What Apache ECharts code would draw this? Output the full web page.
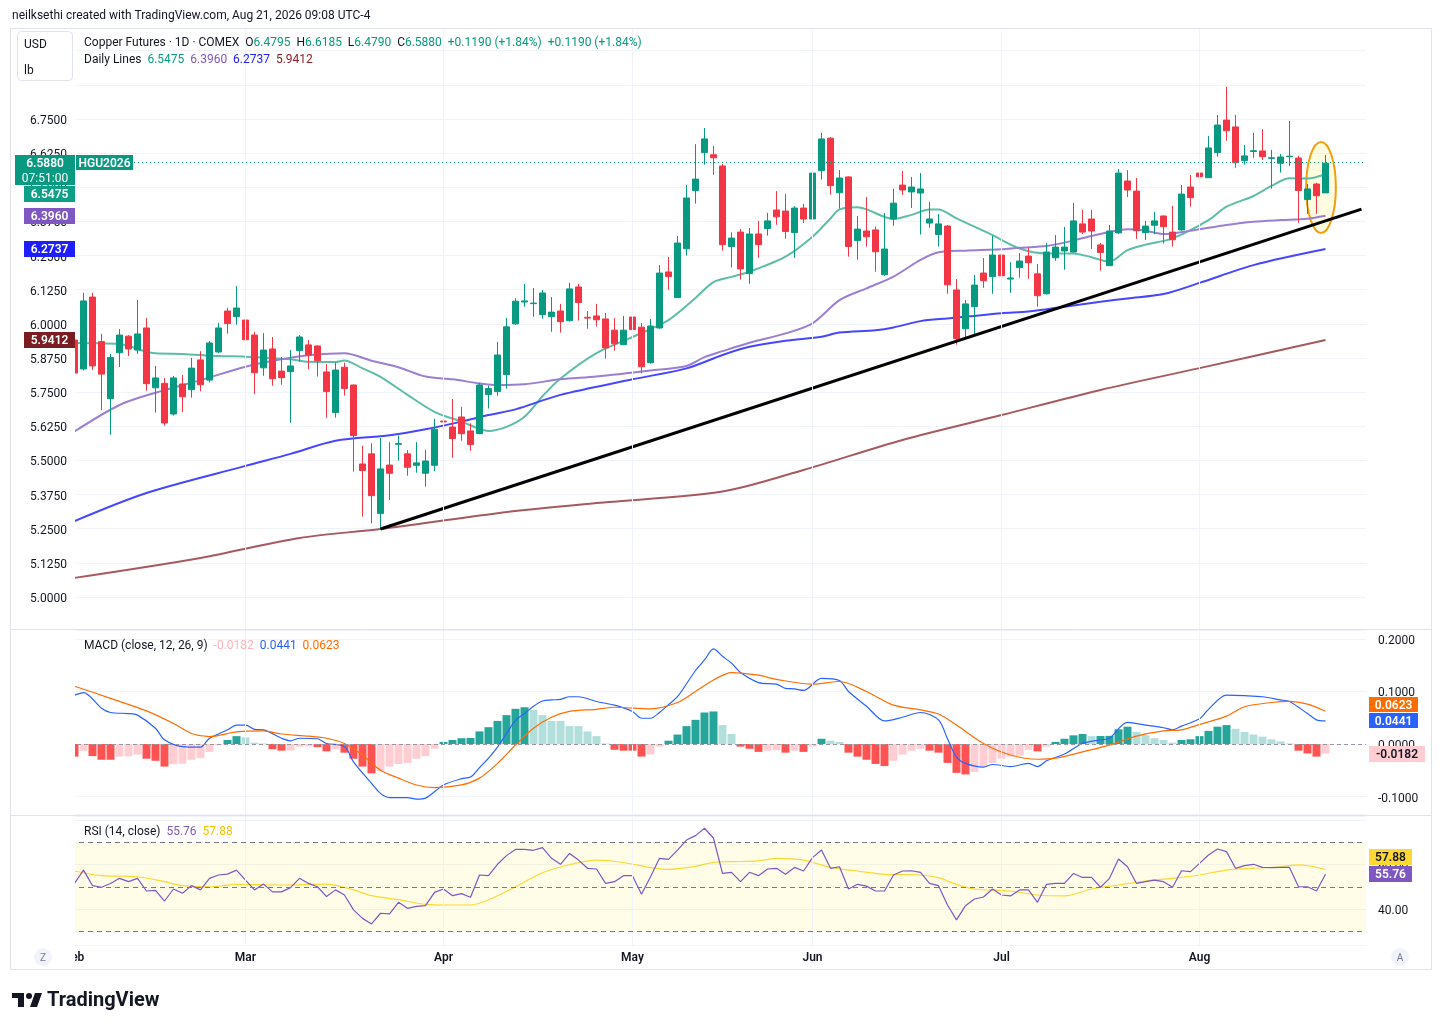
<!DOCTYPE html>
<html>
<head>
<meta charset="utf-8">
<script src="https://cdn.jsdelivr.net/npm/echarts@6/dist/echarts.min.js"></script>
<style>
html, body { margin: 0; padding: 0; background: #fff; }
#main { width: 1441px; height: 1030px; }
</style>
</head>
<body>
<div id="main"></div>
<script>
var FONT = 'Roboto, "Noto Sans", sans-serif';

// trading calendar (COMEX closed on these)
var holidays = ['2026-02-16', '2026-04-03', '2026-05-25', '2026-06-19', '2026-07-03'];
var monthNames = ['Jan', 'Feb', 'Mar', 'Apr', 'May', 'Jun', 'Jul', 'Aug', 'Sep', 'Oct', 'Nov', 'Dec'];
var slotCount = 144;

var open = [5.941,5.835,6.098,5.935,5.726,5.894,5.955,5.904,5.985,5.766,
    5.782,5.670,5.780,5.759,5.868,5.794,5.897,6.047,6.027,6.014,
    5.959,5.839,5.908,5.827,5.825,5.902,5.923,5.919,5.824,5.675,
    5.841,5.776,5.487,5.524,5.306,5.483,5.559,5.524,5.482,5.453,
    5.482,5.644,5.622,5.659,5.608,5.598,5.741,5.752,5.814,6.000,
    6.080,6.074,6.034,6.026,6.047,6.012,6.135,6.024,6.029,6.018,
    5.977,5.924,6.025,5.988,5.858,5.985,6.190,6.096,6.275,6.488,
    6.627,6.619,6.578,6.283,6.336,6.184,6.329,6.349,6.417,6.413,
    6.334,6.424,6.384,6.561,6.680,6.480,6.538,6.305,6.340,6.344,
    6.180,6.384,6.508,6.483,6.479,6.369,6.327,6.358,6.124,5.982,
    6.063,6.186,6.173,6.252,6.164,6.206,6.248,6.183,6.110,6.242,
    6.267,6.263,6.366,6.384,6.289,6.213,6.333,6.523,6.486,6.334,
    6.361,6.395,6.336,6.344,6.501,6.552,6.535,6.627,6.746,6.721,
    6.598,6.631,6.633,6.606,6.588,6.612,6.607,6.455,6.512,6.4795];
var high = [5.960,6.114,6.114,5.963,5.890,5.981,5.959,6.087,6.021,5.846,
    5.802,5.809,5.813,5.875,5.900,5.937,6.004,6.059,6.138,6.095,
    5.971,5.966,5.952,5.879,5.904,5.959,5.941,5.921,5.853,5.858,
    5.858,5.778,5.553,5.563,5.582,5.567,5.591,5.538,5.567,5.538,
    5.652,5.659,5.725,5.696,5.636,5.784,5.774,5.934,6.022,6.094,
    6.146,6.131,6.124,6.098,6.073,6.150,6.146,6.047,6.073,6.040,
    6.021,6.029,6.040,6.003,6.018,6.215,6.245,6.322,6.508,6.658,
    6.717,6.651,6.586,6.335,6.347,6.351,6.377,6.406,6.486,6.475,
    6.431,6.439,6.588,6.699,6.684,6.563,6.540,6.395,6.464,6.356,
    6.406,6.495,6.560,6.538,6.552,6.446,6.402,6.362,6.164,6.087,
    6.179,6.241,6.322,6.256,6.226,6.259,6.281,6.219,6.296,6.325,
    6.355,6.443,6.417,6.417,6.296,6.362,6.567,6.563,6.534,6.377,
    6.410,6.397,6.432,6.508,6.545,6.578,6.688,6.765,6.868,6.765,
    6.655,6.699,6.713,6.637,6.622,6.743,6.615,6.512,6.516,6.6185];
var low = [5.818,5.829,5.831,5.684,5.594,5.842,5.882,5.890,5.755,5.675,
    5.627,5.664,5.677,5.730,5.753,5.786,5.893,5.964,5.997,5.926,
    5.744,5.810,5.774,5.777,5.638,5.862,5.834,5.807,5.657,5.657,
    5.737,5.459,5.294,5.270,5.245,5.355,5.499,5.444,5.455,5.404,
    5.461,5.583,5.510,5.572,5.535,5.596,5.690,5.737,5.763,5.996,
    6.063,6.026,6.019,5.971,5.968,6.008,6.012,5.982,5.990,5.873,
    5.902,5.924,5.953,5.819,5.854,5.982,6.125,6.096,6.250,6.440,
    6.583,6.546,6.268,6.206,6.162,6.147,6.242,6.323,6.363,6.312,
    6.242,6.369,6.380,6.528,6.473,6.422,6.246,6.235,6.283,6.191,
    6.176,6.359,6.472,6.424,6.327,6.352,6.283,6.110,5.924,5.949,
    5.963,6.132,6.110,6.085,6.114,6.169,6.165,6.063,6.107,6.231,
    6.198,6.261,6.329,6.274,6.195,6.213,6.329,6.464,6.311,6.307,
    6.328,6.294,6.283,6.341,6.429,6.451,6.535,6.612,6.670,6.572,
    6.583,6.608,6.600,6.495,6.554,6.578,6.370,6.403,6.403,6.4790];
var close = [5.820,6.084,5.846,5.816,5.877,5.959,5.908,5.963,5.781,5.802,
    5.637,5.802,5.733,5.838,5.777,5.930,5.985,6.001,6.058,5.942,
    5.821,5.904,5.799,5.803,5.846,5.952,5.886,5.865,5.752,5.831,
    5.763,5.591,5.463,5.371,5.469,5.453,5.562,5.475,5.491,5.498,
    5.614,5.641,5.580,5.598,5.558,5.776,5.763,5.886,5.989,6.083,
    6.084,6.076,6.113,6.043,6.008,6.128,6.078,6.021,6.015,5.912,
    5.927,5.977,5.979,5.843,5.992,6.186,6.173,6.296,6.461,6.530,
    6.677,6.608,6.290,6.314,6.201,6.329,6.290,6.377,6.392,6.338,
    6.424,6.384,6.552,6.677,6.506,6.534,6.283,6.347,6.319,6.264,
    6.274,6.442,6.490,6.501,6.494,6.384,6.366,6.143,5.946,6.073,
    6.142,6.158,6.252,6.176,6.168,6.230,6.224,6.103,6.263,6.281,
    6.281,6.377,6.336,6.340,6.261,6.340,6.552,6.490,6.341,6.358,
    6.377,6.356,6.308,6.475,6.462,6.539,6.644,6.728,6.707,6.590,
    6.615,6.634,6.612,6.608,6.611,6.614,6.488,6.494,6.469,6.5880];

// daily moving averages as [bar index, value]
var ma20 = [[0,5.930],[5,5.926],[9,5.892],[12,5.890],[16,5.882],[19,5.880],[24,5.870],[26,5.861],[29,5.860],[30,5.866],
    [32,5.837],[34,5.806],[37,5.740],[40,5.678],[43,5.642],[46,5.608],[48,5.623],[50,5.660],[52,5.735],[54,5.800],
    [58,5.893],[62,5.952],[66,6.014],[69,6.095],[71,6.153],[73,6.172],[75,6.191],[79,6.246],[82,6.319],[84,6.386],
    [85,6.419],[87,6.427],[88,6.419],[91,6.384],[93,6.399],[95,6.419],[96,6.419],[98,6.386],[100,6.356],[102,6.325],
    [105,6.276],[108,6.258],[111,6.258],[113,6.244],[115,6.228],[117,6.270],[119,6.290],[122,6.313],[126,6.380],[128,6.429],
    [131,6.468],[133,6.505],[135,6.533],[137,6.532],[139,6.5475]];
var ma50 = [[0,5.606],[5,5.703],[9,5.748],[14,5.794],[19,5.843],[22,5.865],[24,5.876],[26,5.885],[30,5.892],[33,5.865],
    [36,5.841],[39,5.807],[42,5.797],[45,5.782],[47,5.776],[50,5.779],[54,5.797],[58,5.807],[64,5.829],[68,5.846],
    [70,5.878],[72,5.900],[75,5.931],[79,5.965],[82,6.002],[85,6.087],[88,6.130],[91,6.173],[94,6.234],[96,6.262],
    [99,6.268],[103,6.273],[105,6.279],[108,6.285],[111,6.305],[113,6.322],[115,6.336],[117,6.346],[119,6.341],[121,6.329],
    [124,6.341],[128,6.362],[131,6.374],[134,6.380],[137,6.385],[139,6.396]];
var ma100 = [[0,5.278],[8,5.381],[19,5.480],[24,5.524],[29,5.572],[35,5.592],[39,5.614],[43,5.642],[46,5.666],[49,5.687],
    [54,5.740],[62,5.797],[68,5.837],[72,5.886],[75,5.916],[79,5.938],[83,5.953],[85,5.968],[89,5.977],[91,5.987],
    [94,6.010],[97,6.020],[99,6.026],[103,6.039],[106,6.045],[110,6.063],[114,6.081],[117,6.093],[121,6.109],[125,6.150],
    [131,6.215],[139,6.2737]];
var ma200 = [[0,5.070],[14,5.143],[25,5.216],[34,5.249],[47,5.307],[58,5.344],[72,5.386],[81,5.465],[92,5.575],[103,5.666],
    [114,5.758],[125,5.838],[139,5.9412]];

var trendLine = [[34, 5.249], [143, 6.420]];
var lastPrice = 6.5880;
var circled = { from: 138, to: 139, top: 6.666, bottom: 6.333 };

var macdHist = [-0.024,-0.0127,-0.023,-0.030,-0.030,-0.024,-0.0235,-0.020,-0.028,-0.032,
    -0.043,-0.038,-0.0375,-0.030,-0.027,-0.015,-0.002,0.0076,0.015,0.0127,
    0.0025,0.001,-0.010,-0.0127,-0.012,-0.005,-0.0045,-0.006,-0.014,-0.010,
    -0.0165,-0.028,-0.043,-0.056,-0.051,-0.043,-0.038,-0.036,-0.028,-0.023,
    -0.009,0.004,0.0076,0.011,0.0115,0.024,0.032,0.044,0.055,0.067,
    0.070,0.065,0.055,0.044,0.044,0.034,0.034,0.024,0.015,0.001,
    -0.011,-0.0127,-0.0127,-0.024,-0.020,-0.005,0.0063,0.018,0.034,0.046,
    0.060,0.062,0.036,0.019,-0.005,-0.009,-0.015,-0.0127,-0.012,-0.0165,
    -0.0127,-0.015,-0.005,0.010,0.0063,0.004,-0.0165,-0.024,-0.030,-0.038,
    -0.042,-0.032,-0.020,-0.0127,-0.009,-0.0127,-0.0165,-0.036,-0.055,-0.058,
    -0.053,-0.043,-0.036,-0.028,-0.024,-0.022,-0.011,-0.014,-0.005,0.004,
    0.010,0.0165,0.019,0.015,0.0152,0.0155,0.028,0.033,0.023,0.0165,
    0.011,0.0076,0.0025,0.0076,0.009,0.015,0.025,0.033,0.036,0.029,
    0.023,0.018,0.014,0.009,0.005,0.001,-0.0127,-0.018,-0.024,-0.0182];
var macdLine = [[0,0.093],[1,0.098],[3,0.068],[4,0.060],[6,0.058],[7,0.055],[9,0.030],[10,0.008],[12,-0.005],[14,-0.006],
    [15,0.011],[17,0.027],[18,0.036],[19,0.036],[20,0.028],[21,0.027],[23,0.011],[24,0.006],[25,0.011],[27,0.010],
    [28,0.001],[30,-0.005],[31,-0.034],[33,-0.075],[34,-0.094],[35,-0.102],[37,-0.102],[38,-0.105],[39,-0.103],[41,-0.078],
    [43,-0.066],[44,-0.063],[45,-0.045],[46,-0.027],[47,-0.006],[48,0.020],[49,0.045],[50,0.058],[51,0.072],[52,0.082],
    [53,0.084],[54,0.085],[55,0.090],[56,0.090],[58,0.081],[60,0.074],[62,0.062],[63,0.049],[64,0.049],[65,0.060],
    [66,0.075],[67,0.090],[69,0.140],[70,0.160],[71,0.181],[72,0.167],[73,0.154],[74,0.136],[76,0.117],[78,0.114],
    [79,0.106],[80,0.105],[81,0.102],[83,0.125],[85,0.121],[86,0.100],[88,0.072],[90,0.044],[92,0.051],[94,0.060],
    [96,0.046],[97,0.010],[98,-0.025],[99,-0.037],[101,-0.044],[102,-0.039],[104,-0.043],[106,-0.037],[107,-0.043],[108,-0.032],
    [110,-0.019],[112,0.001],[114,0.008],[115,0.011],[117,0.041],[119,0.036],[121,0.031],[122,0.027],[123,0.034],[125,0.048],
    [126,0.066],[128,0.093],[130,0.092],[132,0.090],[134,0.084],[135,0.081],[137,0.058],[138,0.046],[139,0.0441]];
var signalLine = [[0,0.110],[4,0.087],[8,0.063],[11,0.039],[13,0.020],[15,0.014],[18,0.023],[21,0.025],[23,0.019],[26,0.015],
    [28,0.011],[30,0.001],[32,-0.021],[34,-0.050],[36,-0.065],[38,-0.078],[40,-0.083],[43,-0.078],[45,-0.065],[47,-0.037],
    [49,-0.002],[51,0.030],[53,0.051],[55,0.062],[58,0.066],[60,0.070],[64,0.067],[67,0.079],[69,0.100],[71,0.122],
    [73,0.136],[76,0.131],[78,0.123],[82,0.114],[85,0.119],[88,0.100],[91,0.074],[94,0.065],[96,0.057],[98,0.036],
    [101,0.001],[104,-0.021],[107,-0.029],[109,-0.027],[112,-0.015],[115,-0.002],[118,0.015],[121,0.025],[123,0.027],[125,0.037],
    [128,0.053],[130,0.071],[133,0.079],[135,0.081],[137,0.076],[139,0.0623]];

var rsi = [51.6,57.6,50.6,49.9,51.6,53.9,52.4,53.9,48.2,48.5,
    43.7,49.1,47.2,50.6,48.7,53.9,55.4,55.8,57.6,53.1,
    48.7,51.3,47.8,47.8,49.7,53.9,51.6,50.1,45.7,48.7,
    46.4,39.7,35.9,33.4,38.2,37.9,43.1,40.4,41.3,41.6,
    47.6,49.1,46.1,47.0,45.4,55.4,55.1,60.2,64.1,66.9,
    66.9,66.5,67.7,62.9,60.2,65.1,62.1,58.4,58.1,51.6,
    52.4,55.1,55.1,46.7,54.6,62.9,62.4,66.6,71.1,73.1,
    76.4,71.9,56.1,56.6,52.4,56.6,55.1,58.1,58.4,55.7,
    58.8,57.2,63.2,66.6,58.4,59.1,49.1,51.2,50.4,48.2,
    48.2,55.4,57.2,57.3,56.6,51.6,50.6,41.9,35.2,41.6,
    44.6,45.5,49.1,46.4,46.0,48.7,48.7,43.1,51.2,51.6,
    51.6,56.1,54.3,54.3,49.9,53.9,62.6,59.1,51.6,52.4,
    53.1,52.4,49.9,57.3,56.9,60.6,64.4,67.1,65.9,58.4,
    59.6,60.2,58.8,58.7,58.8,58.8,50.1,50.1,48.2,55.76];
var rsiMa = [[0,57.2],[3,55.1],[7,54.6],[10,52.4],[12,50.6],[15,50.1],[18,51.2],[23,50.9],[28,51.3],[31,48.7],
    [33,46.1],[36,44.3],[39,42.2],[42,41.9],[44,41.9],[46,44.2],[49,50.1],[52,56.4],[55,60.0],[58,62.1],
    [61,61.0],[64,58.7],[66,57.9],[69,59.3],[71,61.1],[73,61.4],[76,61.7],[78,62.9],[81,62.1],[84,58.8],
    [87,57.2],[90,55.7],[94,55.4],[96,54.2],[98,51.2],[100,49.1],[104,48.2],[107,46.4],[110,46.0],[113,49.1],
    [116,50.9],[119,52.7],[122,53.9],[125,55.4],[128,57.6],[131,58.4],[134,59.1],[136,59.9],[139,57.88]];
var rsiLevels = [70, 50, 30];

var dates = [];
var d = new Date(Date.UTC(2026, 1, 2));
while (dates.length < slotCount) {
    var s = d.toISOString().slice(0, 10), wd = d.getUTCDay();
    if (wd !== 0 && wd !== 6 && holidays.indexOf(s) < 0) dates.push(s);
    d.setUTCDate(d.getUTCDate() + 1);
}
var monthStarts = [];
dates.forEach(function(s, k) {
    if (k === 0 || s.slice(5, 7) !== dates[k - 1].slice(5, 7)) monthStarts.push(k);
});
var monthLines = monthStarts.slice(1).map(function(k) { return { xAxis: k }; });

var candles = open.map(function(o, k) { return [o, close[k], low[k], high[k]]; });

var histColor = function(k) {
    var v = macdHist[k], prev = k > 0 ? macdHist[k - 1] : 0;
    if (v >= 0) return v > prev ? '#26A69A' : '#B2DFDB';
    return v <= prev ? '#FF5252' : '#FFCDD2';
};

var xAxisFor = function(gi, labels) {
    return {
        type: 'category', gridIndex: gi, data: dates, boundaryGap: true,
        axisLine: { show: false }, axisTick: { show: false }, splitLine: { show: false },
        axisLabel: {
            show: labels, margin: 7, color: '#131722', fontSize: 12, fontWeight: 600, fontFamily: FONT,
            interval: function(idx) { return monthStarts.indexOf(idx) >= 0; },
            formatter: function(v) { return monthNames[parseInt(v.slice(5, 7), 10) - 1]; }
        }
    };
};
var lineSeries = function(name, data, color, width, xi, yi, z) {
    return { name: name, type: 'line', xAxisIndex: xi, yAxisIndex: yi, data: data, showSymbol: false,
        smooth: 0.3, silent: true, z: z || 2, lineStyle: { color: color, width: width } };
};
// price-scale labels sit a touch lower than the tick, as on TradingView
var scaleLabel = function(margin, fmt) {
    return { margin: margin, color: '#131722', fontSize: 12, showMinLabel: false, showMaxLabel: false,
        rich: { p: { padding: [4, 0, 0, 0], fontSize: 12, color: '#131722' } },
        formatter: function(v) { var t = fmt(v); return t ? '{p|' + t + '}' : ''; } };
};

var option = {
    animation: false,
    backgroundColor: '#ffffff',
    textStyle: { fontFamily: FONT },
    grid: [
        { left: 70, top: 28, width: 1296, height: 601 },
        { left: 70, top: 630, width: 1296, height: 184 },
        { left: 70, top: 816, width: 1296, height: 129 }
    ],
    xAxis: [xAxisFor(0, false), xAxisFor(1, false), xAxisFor(2, true)],
    yAxis: [
        { type: 'value', gridIndex: 0, min: 4.8828, max: 7.0832, minInterval: 0.125, maxInterval: 0.125,
            axisLine: { show: false }, axisTick: { show: false }, axisLabel: { show: false },
            splitLine: { lineStyle: { color: '#F0F3FA' } } },
        { type: 'value', gridIndex: 0, position: 'left', z: 10, min: 4.8828, max: 7.0832, minInterval: 0.125, maxInterval: 0.125,
            axisLine: { show: false }, axisTick: { show: false }, splitLine: { show: false },
            axisLabel: scaleLabel(3, function(v) { return v > 6.8 ? '' : v.toFixed(4); }) },
        { type: 'value', gridIndex: 1, position: 'right', min: -0.1333, max: 0.2171, minInterval: 0.1, maxInterval: 0.1,
            axisLine: { show: false }, axisTick: { show: false }, splitLine: { lineStyle: { color: '#F0F3FA' } },
            axisLabel: scaleLabel(12, function(v) { return v.toFixed(4); }) },
        { type: 'value', gridIndex: 2, position: 'right', min: 23.93, max: 81.91, minInterval: 20, maxInterval: 20,
            axisLine: { show: false }, axisTick: { show: false }, splitLine: { lineStyle: { color: '#F0F3FA' } },
            axisLabel: scaleLabel(12, function(v) { return (v === 40 || v === 60) ? v.toFixed(2) : ''; }) }
    ],
    series: [
        {
            name: 'HGU2026', type: 'candlestick', xAxisIndex: 0, yAxisIndex: 0, data: candles, barWidth: 7, z: 2,
            itemStyle: { color: '#089981', color0: '#F23645', borderColor: '#089981', borderColor0: '#F23645', borderWidth: 1 },
            markLine: {
                silent: true, symbol: ['none', 'none'], label: { show: false }, animation: false,
                lineStyle: { color: '#F0F3FA', type: 'solid', width: 1 },
                data: monthLines.concat([{ yAxis: lastPrice, lineStyle: { color: '#089981', type: [1, 3], width: 1 } }])
            }
        },
        lineSeries('MA20', ma20, '#5DBDA7', 2, 0, 0, 1),
        lineSeries('MA50', ma50, '#9A7FD2', 2, 0, 0, 1),
        lineSeries('MA100', ma100, '#4646FF', 2, 0, 0, 1),
        lineSeries('MA200', ma200, '#A65A60', 2, 0, 0, 1),
        { name: 'trend', type: 'line', xAxisIndex: 0, yAxisIndex: 0, data: trendLine, showSymbol: false, silent: true, z: 3,
            lineStyle: { color: '#000000', width: 3 } },
        {
            name: 'Histogram', type: 'bar', xAxisIndex: 1, yAxisIndex: 2, barWidth: 8, silent: true,
            data: macdHist.map(function(v, k) { return { value: v, itemStyle: { color: histColor(k) } }; }),
            markLine: {
                silent: true, symbol: ['none', 'none'], label: { show: false }, animation: false,
                lineStyle: { color: '#F0F3FA', type: 'solid', width: 1 },
                data: monthLines.concat([{ yAxis: 0, lineStyle: { color: '#9598A1', type: [4, 3], width: 1 } }])
            }
        },
        lineSeries('MACD', macdLine, '#2962FF', 1.2, 1, 2, 3),
        lineSeries('Signal', signalLine, '#FF6D00', 1.2, 1, 2, 3),
        {
            name: 'RSI', type: 'line', xAxisIndex: 2, yAxisIndex: 3, data: rsi, showSymbol: false, silent: true, z: 3,
            lineStyle: { color: '#7E57C2', width: 1.2 },
            markArea: { silent: true, itemStyle: { color: 'rgba(255, 235, 59, 0.12)' },
                data: [[{ yAxis: rsiLevels[0] }, { yAxis: rsiLevels[2] }]] },
            markLine: {
                silent: true, symbol: ['none', 'none'], label: { show: false }, animation: false,
                lineStyle: { color: '#F0F3FA', type: 'solid', width: 1 },
                data: monthLines.concat(rsiLevels.map(function(v) {
                    return { yAxis: v, lineStyle: { color: '#787B86', type: [5, 4], width: 1 } };
                }))
            }
        },
        lineSeries('RSI MA', rsiMa, '#FDD835', 1.2, 2, 3, 2)
    ]
};

var chart = echarts.init(document.getElementById('main'));
chart.setOption(option);

var badge = function(x, y, w, h, bg, txt, fg) {
    return [
        { type: 'rect', z: 20, shape: { x: x, y: y, width: w, height: h }, style: { fill: bg } },
        { type: 'text', z: 21, style: { x: x + w / 2, y: y + h / 2 + 1, text: txt, fill: fg, fontSize: 12, fontWeight: 600,
            fontFamily: FONT, align: 'center', verticalAlign: 'middle' } }
    ];
};
var plainText = function(x, y, text, size, color, weight) {
    return { type: 'text', z: 12, style: { x: x, y: y, text: text, fill: color || '#131722', fontSize: size || 12,
        fontWeight: weight || 'normal', fontFamily: FONT, verticalAlign: 'middle' } };
};
var legend = function(x, y, text, richMap) {
    return { type: 'text', z: 12, style: { x: x, y: y, text: text, rich: richMap, fill: '#131722', fontSize: 12,
        fontFamily: FONT, verticalAlign: 'middle' } };
};

var p0 = chart.convertToPixel({ gridIndex: 0 }, [circled.from, circled.top]);
var p1 = chart.convertToPixel({ gridIndex: 0 }, [circled.to, circled.bottom]);

var g = [];
// left price-scale strip and pane frame
g.push({ type: 'rect', z: 5, shape: { x: 11, y: 29, width: 64, height: 940 }, style: { fill: '#ffffff' } });
g.push({ type: 'rect', z: 6, shape: { x: 10.5, y: 28.5, width: 1421, height: 941 }, style: { fill: 'none', stroke: '#E0E3EB', lineWidth: 1 } });
g.push({ type: 'line', z: 6, shape: { x1: 10, y1: 629.5, x2: 1432, y2: 629.5 }, style: { stroke: '#E0E3EB', lineWidth: 1 } });
g.push({ type: 'line', z: 6, shape: { x1: 10, y1: 815.5, x2: 1432, y2: 815.5 }, style: { stroke: '#E0E3EB', lineWidth: 1 } });

g.push({ type: 'ellipse', z: 1, shape: { cx: (p0[0] + p1[0]) / 2, cy: (p0[1] + p1[1]) / 2, rx: (p1[0] - p0[0]) * 1.65, ry: (p1[1] - p0[1]) / 2 },
    style: { fill: 'rgba(255, 235, 59, 0.16)', stroke: '#F59E0B', lineWidth: 2 } });

g.push(plainText(12, 16, 'neilksethi created with TradingView.com, Aug 21, 2026 09:08 UTC-4'));

g.push({ type: 'rect', z: 11, shape: { x: 17.5, y: 31.5, width: 55, height: 49, r: 4 }, style: { fill: '#ffffff', stroke: '#E0E3EB' } });
g.push(plainText(24, 45, 'USD'));
g.push(plainText(24, 71, 'lb'));

g.push(legend(84, 43, '{d|Copper Futures · 1D · COMEX}  {d|O}{g|6.4795}  {d|H}{g|6.6185}  {d|L}{g|6.4790}  {d|C}{g|6.5880}  {g|+0.1190 (+1.84%)}  {g|+0.1190 (+1.84%)}',
    { d: { fill: '#131722' }, g: { fill: '#089981' } }));
g.push(legend(84, 60, '{d|Daily Lines}  {a|6.5475}  {b|6.3960}  {c|6.2737}  {e|5.9412}',
    { d: { fill: '#131722' }, a: { fill: '#089981' }, b: { fill: '#7E57C2' }, c: { fill: '#2121FF' }, e: { fill: '#8B1E24' } }));
g.push(legend(84, 646, '{d|MACD (close, 12, 26, 9)}  {a|-0.0182}  {b|0.0441}  {c|0.0623}',
    { d: { fill: '#131722' }, a: { fill: '#FFB3BA' }, b: { fill: '#2962FF' }, c: { fill: '#FF6D00' } }));
g.push(legend(84, 832, '{d|RSI (14, close)}  {a|55.76}  {b|57.88}',
    { d: { fill: '#131722' }, a: { fill: '#7E57C2' }, b: { fill: '#F5C400' } }));

g = g.concat(
    badge(15, 155, 60, 30, '#089981', '', '#ffffff'),
    badge(76, 155, 57, 15, '#089981', 'HGU2026', '#ffffff'),
    badge(24, 186, 51, 16, '#0E9F86', '6.5475', '#ffffff'),
    badge(24, 208, 51, 16, '#7E57C2', '6.3960', '#ffffff'),
    badge(24, 241, 51, 16, '#1E1EFF', '6.2737', '#ffffff'),
    badge(24, 332, 51, 16, '#7A1C22', '5.9412', '#ffffff'),
    badge(1369, 697, 49, 15, '#FF6D00', '0.0623', '#ffffff'),
    badge(1369, 713, 49, 15, '#2962FF', '0.0441', '#ffffff'),
    badge(1369, 746, 56, 16, '#FFCDD2', '-0.0182', '#131722'),
    badge(1369, 849, 43, 16, '#FDD835', '57.88', '#131722'),
    badge(1369, 866, 43, 16, '#7E57C2', '55.76', '#ffffff')
);
g.push({ type: 'text', z: 22, style: { x: 45, y: 163.5, text: '6.5880', fill: '#ffffff', fontSize: 12, fontWeight: 600,
    fontFamily: FONT, align: 'center', verticalAlign: 'middle' } });
g.push({ type: 'text', z: 22, style: { x: 45, y: 178.5, text: '07:51:00', fill: '#ffffff', fontSize: 12,
    fontFamily: FONT, align: 'center', verticalAlign: 'middle' } });

// scale buttons on the time axis
g.push({ type: 'circle', z: 12, shape: { cx: 43, cy: 957, r: 9 }, style: { fill: '#F0F3FA' } });
g.push({ type: 'text', z: 13, style: { x: 43, y: 958, text: 'Z', fill: '#787B86', fontSize: 10, fontFamily: FONT, align: 'center', verticalAlign: 'middle' } });
g.push({ type: 'circle', z: 12, shape: { cx: 1400, cy: 957, r: 9 }, style: { fill: '#F0F3FA' } });
g.push({ type: 'text', z: 13, style: { x: 1400, y: 958, text: 'A', fill: '#787B86', fontSize: 10, fontFamily: FONT, align: 'center', verticalAlign: 'middle' } });

// TradingView logo
g.push({ type: 'rect', z: 12, shape: { x: 12, y: 993, width: 12, height: 5 }, style: { fill: '#131722' } });
g.push({ type: 'rect', z: 12, shape: { x: 18, y: 993, width: 6, height: 14 }, style: { fill: '#131722' } });
g.push({ type: 'circle', z: 12, shape: { cx: 29, cy: 996, r: 3 }, style: { fill: '#131722' } });
g.push({ type: 'polygon', z: 12, shape: { points: [[35, 993], [42, 993], [37, 1007], [30, 1007]] }, style: { fill: '#131722' } });
g.push(plainText(47, 1001, 'TradingView', 20, '#131722', 'bold'));

chart.setOption({ graphic: { elements: g } });
</script>
</body>
</html>
